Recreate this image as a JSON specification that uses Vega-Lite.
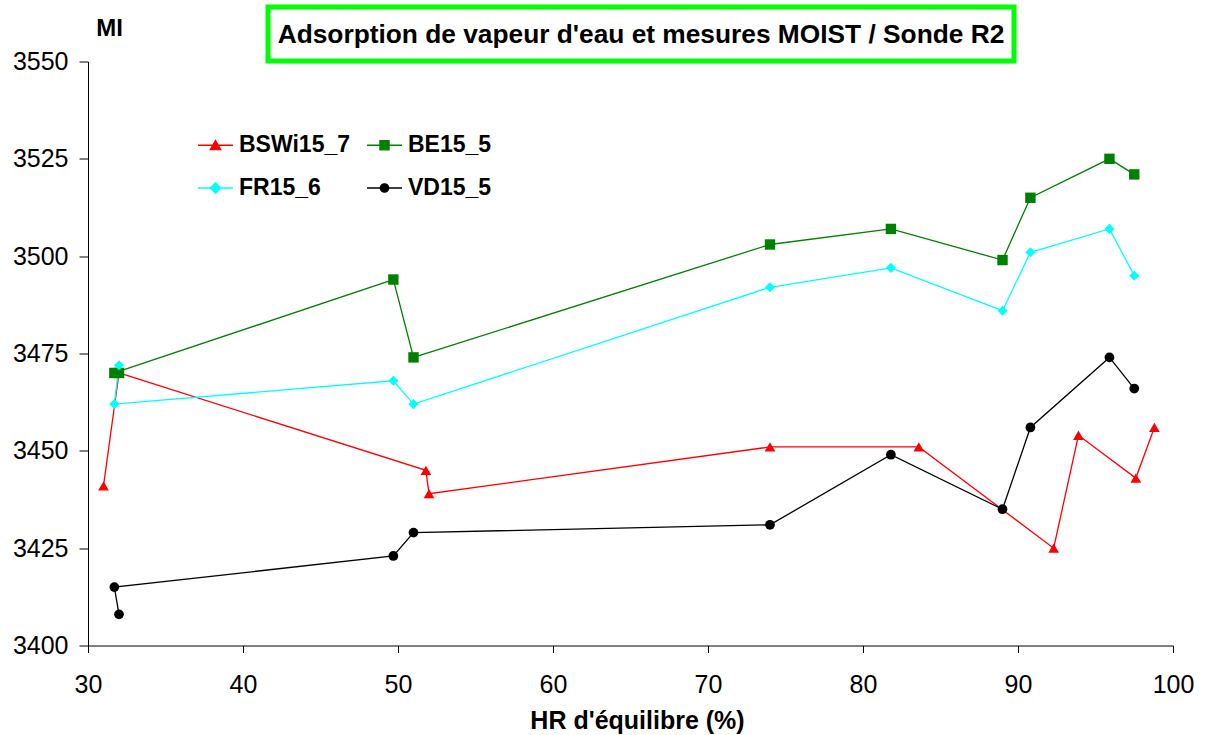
{
  "$schema": "https://vega.github.io/schema/vega-lite/v6.json",
  "background": "white",
  "padding": {"left": 12, "top": 4, "right": 0, "bottom": 0},
  "bounds": "flush",
  "spacing": 54.5,
  "resolve": {"scale": {"x": "independent", "y": "independent"}},
  "config": {
    "font": "Liberation Sans",
    "view": {"stroke": null},
    "axis": {
      "labelFont": "Liberation Sans", "labelFontSize": 25, "labelColor": "#000000", "labelFlush": false,
      "titleFont": "Liberation Sans", "titleFontSize": 25, "titleFontWeight": "bold", "titleColor": "#000000",
      "domainColor": "#000000", "tickColor": "#000000", "grid": false, "domainWidth": 1, "tickWidth": 1
    },
    "legend": {
      "orient": "none", "legendX": 109, "legendY": 65, "columns": 2, "title": null,
      "labelFont": "Liberation Sans", "labelFontSize": 23, "labelFontWeight": "bold", "labelColor": "#000000",
      "symbolSize": 1225, "labelOffset": 5, "columnPadding": 13, "rowPadding": 12, "padding": 0,
      "symbolOpacity": 1, "symbolStrokeWidth": 1.3
    }
  },
  "datasets": {
    "pts": [
      {"s": "BSWi15_7", "i": 1, "x": 31.0, "y": 3441},
      {"s": "BSWi15_7", "i": 2, "x": 32.0, "y": 3470},
      {"s": "BSWi15_7", "i": 3, "x": 51.8, "y": 3445},
      {"s": "BSWi15_7", "i": 4, "x": 52.0, "y": 3439},
      {"s": "BSWi15_7", "i": 5, "x": 74.0, "y": 3451},
      {"s": "BSWi15_7", "i": 6, "x": 83.6, "y": 3451},
      {"s": "BSWi15_7", "i": 7, "x": 92.3, "y": 3425},
      {"s": "BSWi15_7", "i": 8, "x": 93.9, "y": 3454},
      {"s": "BSWi15_7", "i": 9, "x": 97.6, "y": 3443},
      {"s": "BSWi15_7", "i": 10, "x": 98.8, "y": 3456},
      {"s": "BE15_5", "i": 1, "x": 32.0, "y": 3470},
      {"s": "BE15_5", "i": 2, "x": 31.7, "y": 3470},
      {"s": "BE15_5", "i": 3, "x": 49.7, "y": 3494},
      {"s": "BE15_5", "i": 4, "x": 51.0, "y": 3474},
      {"s": "BE15_5", "i": 5, "x": 74.0, "y": 3503},
      {"s": "BE15_5", "i": 6, "x": 81.8, "y": 3507},
      {"s": "BE15_5", "i": 7, "x": 89.0, "y": 3499},
      {"s": "BE15_5", "i": 8, "x": 90.8, "y": 3515},
      {"s": "BE15_5", "i": 9, "x": 95.9, "y": 3525},
      {"s": "BE15_5", "i": 10, "x": 97.5, "y": 3521},
      {"s": "FR15_6", "i": 1, "x": 32.0, "y": 3472},
      {"s": "FR15_6", "i": 2, "x": 31.7, "y": 3462},
      {"s": "FR15_6", "i": 3, "x": 49.7, "y": 3468},
      {"s": "FR15_6", "i": 4, "x": 51.0, "y": 3462},
      {"s": "FR15_6", "i": 5, "x": 74.0, "y": 3492},
      {"s": "FR15_6", "i": 6, "x": 81.8, "y": 3497},
      {"s": "FR15_6", "i": 7, "x": 89.0, "y": 3486},
      {"s": "FR15_6", "i": 8, "x": 90.8, "y": 3501},
      {"s": "FR15_6", "i": 9, "x": 95.9, "y": 3507},
      {"s": "FR15_6", "i": 10, "x": 97.5, "y": 3495},
      {"s": "VD15_5", "i": 1, "x": 32.0, "y": 3408},
      {"s": "VD15_5", "i": 2, "x": 31.7, "y": 3415},
      {"s": "VD15_5", "i": 3, "x": 49.7, "y": 3423},
      {"s": "VD15_5", "i": 4, "x": 51.0, "y": 3429},
      {"s": "VD15_5", "i": 5, "x": 74.0, "y": 3431},
      {"s": "VD15_5", "i": 6, "x": 81.8, "y": 3449},
      {"s": "VD15_5", "i": 7, "x": 89.0, "y": 3435},
      {"s": "VD15_5", "i": 8, "x": 90.8, "y": 3456},
      {"s": "VD15_5", "i": 9, "x": 95.9, "y": 3474},
      {"s": "VD15_5", "i": 10, "x": 97.5, "y": 3466}
    ]
  },
  "vconcat": [
    {
      "bounds": "flush",
      "spacing": 0,
      "hconcat": [
        {
          "width": 180,
          "height": 54,
          "data": {"values": []},
          "mark": {"type": "text"}
        },
        {
          "width": 746,
          "height": 54,
          "view": {"stroke": "#00FF00", "strokeWidth": 5, "fill": "white"},
          "data": {"values": [{"t": "Adsorption de vapeur d'eau et mesures MOIST / Sonde R2"}]},
          "mark": {"type": "text", "font": "Liberation Sans", "fontSize": 26.3, "fontWeight": "bold", "color": "#000000",
                   "align": "center", "baseline": "middle", "dy": 1},
          "encoding": {
            "text": {"field": "t", "type": "nominal"},
            "x": {"datum": 0.5, "type": "quantitative", "scale": {"domain": [0, 1]}, "axis": null},
            "y": {"datum": 0.5, "type": "quantitative", "scale": {"domain": [0, 1]}, "axis": null}
          }
        }
      ]
    },
    {
      "width": 1085,
      "height": 584,
      "data": {"name": "pts"},
      "resolve": {"scale": {"shape": "independent", "stroke": "independent", "fill": "independent"}},
      "encoding": {
        "x": {"field": "x", "type": "quantitative",
              "scale": {"domain": [30, 100], "nice": false, "zero": false},
              "axis": {"title": "HR d'équilibre (%)", "values": [30, 40, 50, 60, 70, 80, 90, 100], "format": "d",
                       "tickSize": 7, "labelPadding": 20, "titleX": 549, "titleY": 83, "titleAlign": "center", "titleBaseline": "alphabetic"}},
        "y": {"field": "y", "type": "quantitative",
              "scale": {"domain": [3400, 3550], "nice": false, "zero": false},
              "axis": {"title": "MI", "values": [3400, 3425, 3450, 3475, 3500, 3525, 3550], "format": "d",
                       "tickSize": 9, "labelPadding": 11, "titleAngle": 0, "titleFontSize": 24,
                       "titleX": 21, "titleY": -26, "titleAlign": "center", "titleBaseline": "alphabetic"}}
      },
      "layer": [
        {
          "mark": {"type": "line", "strokeWidth": 1.3},
          "encoding": {
            "stroke": {"field": "s", "type": "nominal", "legend": null,
                       "scale": {"domain": ["BSWi15_7", "BE15_5", "FR15_6", "VD15_5"], "range": ["#FF0000", "#008000", "#00FFFF", "#000000"]}},
            "order": {"field": "i", "type": "quantitative"}
          }
        },
        {
          "mark": {"type": "point", "filled": true, "opacity": 1, "strokeWidth": 0},
          "encoding": {
            "color": {"field": "s", "type": "nominal", "legend": null,
                      "scale": {"domain": ["BSWi15_7", "BE15_5", "FR15_6", "VD15_5"], "range": ["#FF0000", "#008000", "#00FFFF", "#000000"]}},
            "shape": {"field": "s", "type": "nominal", "legend": null,
                      "scale": {"domain": ["BSWi15_7", "BE15_5", "FR15_6", "VD15_5"], "range": ["triangle-up", "square", "diamond", "circle"]}},
            "size": {"field": "s", "type": "nominal", "legend": null,
                     "scale": {"domain": ["BSWi15_7", "BE15_5", "FR15_6", "VD15_5"], "range": [115, 95, 100, 95]}}
          }
        },
        {
          "transform": [{"filter": "false"}],
          "mark": {"type": "point", "filled": true, "opacity": 1, "size": 1225, "strokeWidth": 1.3},
          "encoding": {
            "fill": {"field": "s", "type": "nominal",
                     "scale": {"domain": ["BSWi15_7", "FR15_6", "BE15_5", "VD15_5"], "range": ["#FF0000", "#00FFFF", "#008000", "#000000"]}},
            "stroke": {"field": "s", "type": "nominal",
                       "scale": {"domain": ["BSWi15_7", "FR15_6", "BE15_5", "VD15_5"], "range": ["#FF0000", "#00FFFF", "#008000", "#000000"]}},
            "shape": {"field": "s", "type": "nominal",
                      "scale": {"domain": ["BSWi15_7", "FR15_6", "BE15_5", "VD15_5"],
                                "range": ["M-1,0H1M0,-0.27L0.3,0.25L-0.3,0.25Z", "M-1,0H1M0,-0.3L0.3,0L0,0.3L-0.3,0Z", "M-1,0H1M-0.26,-0.26H0.26V0.26H-0.26Z", "M-1,0H1M-0.24,0A0.24,0.24,0,1,1,0.24,0A0.24,0.24,0,1,1,-0.24,0Z"]}}
          }
        }
      ]
    }
  ]
}
